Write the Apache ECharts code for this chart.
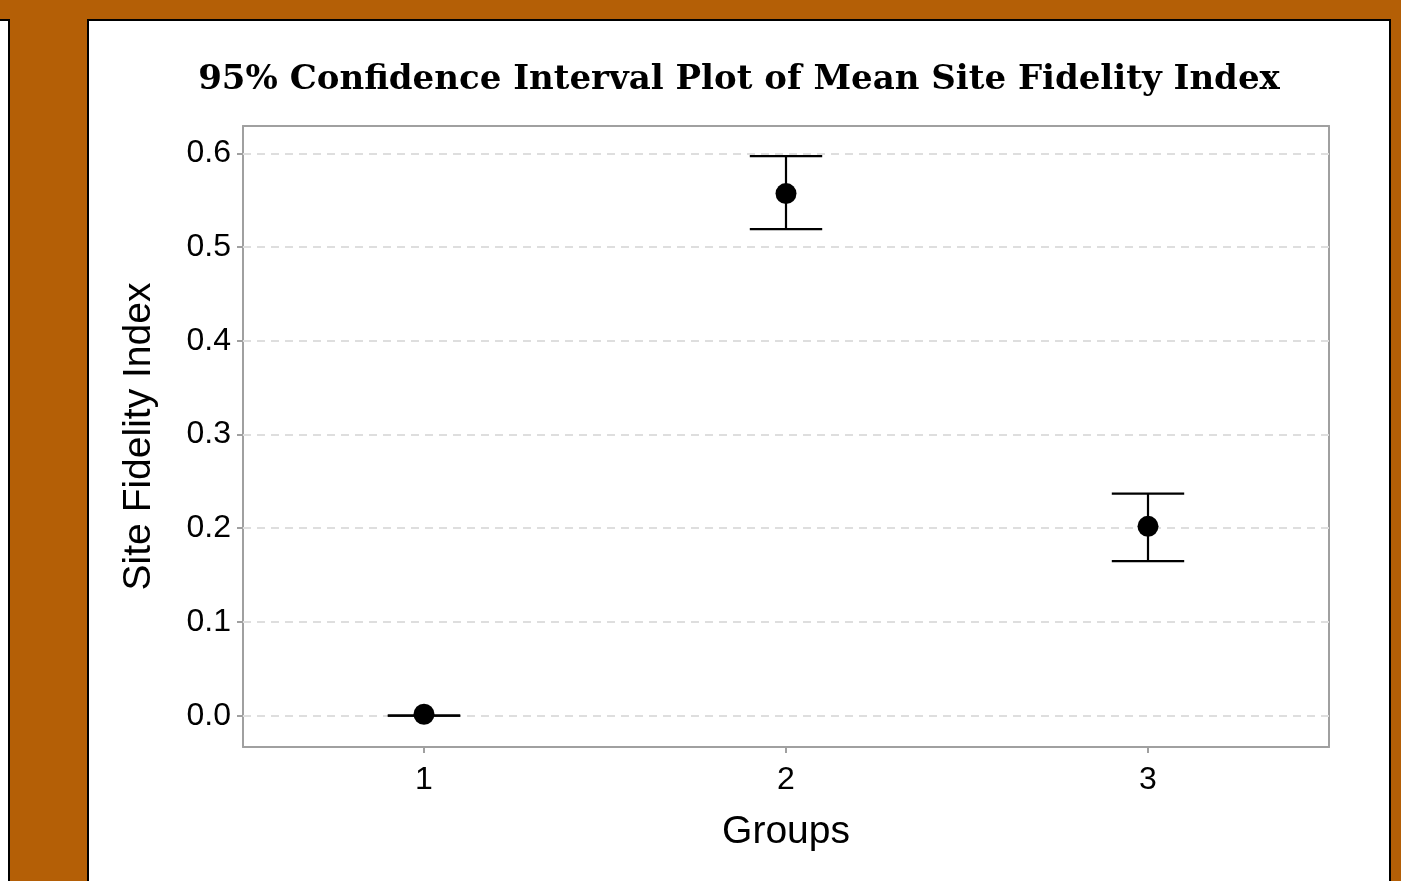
<!DOCTYPE html>
<html>
<head>
<meta charset="utf-8">
<script src="https://cdn.jsdelivr.net/npm/echarts@6/dist/echarts.min.js"></script>
<style>
html,body{margin:0;padding:0;background:#B45F06;}
#chart{width:1401px;height:881px;}
</style>
</head>
<body>
<div id="chart"></div>
<script>
// ---- data ----
var groups = ['1', '2', '3'];
var means  = [0.0015, 0.557, 0.202];
var lower  = [0.000, 0.519, 0.165];
var upper  = [0.000, 0.597, 0.237];
var yTicks = [0.0, 0.1, 0.2, 0.3, 0.4, 0.5, 0.6];
var titleText = '95% Confidence Interval Plot of Mean Site Fidelity Index';
var xName = 'Groups';
var yName = 'Site Fidelity Index';

var errData = groups.map(function (g, i) { return [i, lower[i], upper[i]]; });
var meanData = groups.map(function (g, i) { return [i, means[i]]; });

var frameLine = {show: true, onZero: false, lineStyle: {color: '#a0a0a0', width: 2}};

var chart = echarts.init(document.getElementById('chart'), null, {renderer: 'canvas'});
chart.setOption({
  animation: false,
  backgroundColor: '#B45F06',
  graphic: [
    {type: 'rect', z: -100, shape: {x: -20, y: 20, width: 29, height: 900},
     style: {fill: '#ffffff', stroke: '#000000', lineWidth: 2}},
    {type: 'rect', z: -100, shape: {x: 88, y: 20, width: 1302, height: 900},
     style: {fill: '#ffffff', stroke: '#000000', lineWidth: 2}}
  ],
  title: {
    text: titleText,
    left: 734, top: 58, textAlign: 'center',
    textStyle: {fontFamily: 'DejaVu Serif', fontWeight: 'bold', fontSize: 34, color: '#000'}
  },
  grid: {
    left: 243, top: 126, width: 1086, height: 621,
    show: false
  },
  xAxis: [{
    type: 'category', data: groups, boundaryGap: true, position: 'bottom',
    name: xName, nameLocation: 'middle', nameGap: 66,
    nameTextStyle: {fontFamily: 'Liberation Sans', fontSize: 39, color: '#000'},
    axisLine: frameLine,
    axisTick: {show: true, alignWithLabel: true, length: 6, lineStyle: {color: '#a0a0a0', width: 2}},
    axisLabel: {fontFamily: 'Liberation Sans', fontSize: 32, color: '#000', margin: 17},
    splitLine: {show: false}
  }, {
    type: 'category', data: groups, position: 'top',
    axisLine: frameLine, axisTick: {show: false}, axisLabel: {show: false}, splitLine: {show: false}
  }],
  yAxis: [{
    type: 'value', min: -0.0334, max: 0.6291, position: 'left',
    name: yName, nameLocation: 'middle', nameGap: 84,
    nameTextStyle: {fontFamily: 'Liberation Sans', fontSize: 39, color: '#000'},
    axisLine: frameLine,
    axisTick: {show: true, length: 6, customValues: yTicks, lineStyle: {color: '#a0a0a0', width: 2}},
    axisLabel: {fontFamily: 'Liberation Sans', fontSize: 32, color: '#000', margin: 12,
      customValues: yTicks,
      formatter: function (v) { return Number(v).toFixed(1); }},
    splitLine: {show: false}
  }, {
    type: 'value', min: -0.0334, max: 0.6291, position: 'right',
    axisLine: frameLine, axisTick: {show: false}, axisLabel: {show: false}, splitLine: {show: false}
  }],
  series: [
    {
      type: 'line', data: [], z: 1, silent: true,
      markLine: {
        silent: true, symbol: 'none', label: {show: false},
        lineStyle: {type: [8, 6], color: '#dedede', width: 2},
        data: yTicks.map(function (t) { return {yAxis: t}; })
      }
    },
    {
      type: 'custom', z: 5, data: errData,
      renderItem: function (params, api) {
        var x = api.value(0);
        var lo = api.coord([x, api.value(1)]);
        var hi = api.coord([x, api.value(2)]);
        var hw = api.size([1, 0])[0] * 0.1;
        var st = {stroke: '#000', lineWidth: 2.2};
        return {type: 'group', children: [
          {type: 'line', shape: {x1: hi[0], y1: hi[1], x2: lo[0], y2: lo[1]}, style: st},
          {type: 'line', shape: {x1: hi[0] - hw, y1: hi[1], x2: hi[0] + hw, y2: hi[1]}, style: st},
          {type: 'line', shape: {x1: lo[0] - hw, y1: lo[1], x2: lo[0] + hw, y2: lo[1]}, style: st}
        ]};
      }
    },
    {
      type: 'scatter', z: 6, data: meanData, symbol: 'circle', symbolSize: 21,
      itemStyle: {color: '#000', opacity: 1}
    }
  ]
});
</script>
</body>
</html>
